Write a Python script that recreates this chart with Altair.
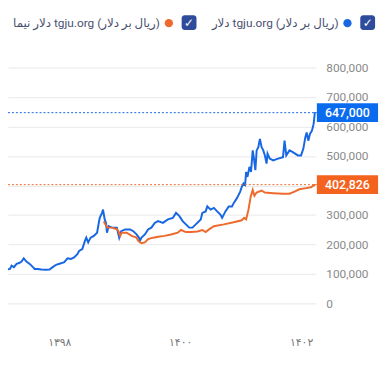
import altair as alt
import pandas as pd

# --- data (x = Persian solar year, fractional) ---
blue_years = [1397.020, 1397.048, 1397.064, 1397.086, 1397.130, 1397.184, 1397.211, 1397.249,
              1397.293, 1397.336, 1397.375, 1397.412, 1397.456, 1397.510, 1397.564, 1397.592,
              1397.646, 1397.701, 1397.783, 1397.837, 1397.891, 1397.946, 1398.028, 1398.082,
              1398.136, 1398.191, 1398.245, 1398.299, 1398.327, 1398.380, 1398.424, 1398.446,
              1398.478, 1398.518, 1398.571, 1398.625, 1398.653, 1398.669, 1398.707, 1398.723,
              1398.751, 1398.772, 1398.789, 1398.816, 1398.870, 1398.952, 1398.991, 1399.024,
              1399.089, 1399.171, 1399.224, 1399.278, 1399.318, 1399.334, 1399.360, 1399.416,
              1399.469, 1399.523, 1399.579, 1399.633, 1399.714, 1399.796, 1399.878, 1399.931,
              1399.987, 1400.041, 1400.095, 1400.150, 1400.204, 1400.258, 1400.340, 1400.367,
              1400.421, 1400.449, 1400.503, 1400.558, 1400.612, 1400.666, 1400.694, 1400.748,
              1400.803, 1400.857, 1400.885, 1400.939, 1400.967, 1400.993, 1401.020, 1401.048,
              1401.074, 1401.091, 1401.113, 1401.146, 1401.172, 1401.200, 1401.221, 1401.244,
              1401.265, 1401.293, 1401.319, 1401.347, 1401.375, 1401.401, 1401.429, 1401.445,
              1401.482, 1401.538, 1401.620, 1401.701, 1401.727, 1401.755, 1401.809, 1401.864,
              1401.946, 1402.000, 1402.038, 1402.070, 1402.093, 1402.119, 1402.147, 1402.180,
              1402.207, 1402.229]
blue_values = [123000, 111000, 97000, 108000, 115000, 117000, 128000, 123000,
               134000, 137000, 142000, 153000, 142000, 134000, 123000, 117000,
               117000, 115000, 114000, 115000, 123000, 131000, 136000, 140000,
               153000, 151000, 156000, 167000, 178000, 184000, 212000, 223000,
               207000, 223000, 229000, 240000, 273000, 290000, 307000, 318000,
               285000, 273000, 240000, 262000, 257000, 257000, 223000, 245000,
               251000, 251000, 245000, 234000, 223000, 212000, 223000, 234000,
               251000, 257000, 273000, 279000, 273000, 285000, 290000, 307000,
               296000, 279000, 268000, 257000, 257000, 268000, 285000, 307000,
               312000, 329000, 318000, 324000, 312000, 301000, 290000, 312000,
               329000, 329000, 340000, 357000, 368000, 379000, 396000, 407000,
               402000, 446000, 429000, 463000, 446000, 519000, 491000, 452000,
               519000, 530000, 558000, 530000, 519000, 502000, 474000, 508000,
               491000, 485000, 491000, 496000, 552000, 502000, 519000, 513000,
               502000, 502000, 525000, 563000, 580000, 552000, 575000, 586000,
               608000, 647000]

nima_years = [1398.735, 1398.762, 1398.789, 1398.870, 1398.952, 1398.980, 1399.007, 1399.033,
              1399.115, 1399.197, 1399.278, 1399.306, 1399.360, 1399.416, 1399.469, 1399.551,
              1399.660, 1399.742, 1399.850, 1399.959, 1400.013, 1400.095, 1400.176, 1400.286,
              1400.367, 1400.421, 1400.477, 1400.558, 1400.722, 1400.885, 1401.020, 1401.058,
              1401.091, 1401.130, 1401.167, 1401.200, 1401.228, 1401.265, 1401.347, 1401.401,
              1401.538, 1401.701, 1401.809, 1401.891, 1401.972, 1402.082, 1402.163, 1402.229]
nima_values = [278000, 268000, 257000, 257000, 251000, 245000, 229000, 240000,
               240000, 229000, 223000, 212000, 204000, 207000, 218000, 223000,
               227000, 229000, 234000, 240000, 249000, 242000, 242000, 244000,
               249000, 242000, 251000, 262000, 268000, 275000, 282000, 290000,
               285000, 318000, 363000, 385000, 365000, 376000, 383000, 376000,
               374000, 372000, 372000, 379000, 387000, 391000, 394000, 402826]

series_names = ["دلار tgju.org (ریال بر دلار)", "دلار نیما tgju.org (ریال بر دلار)"]
last_labels = ["647,000", "402,826"]
tick_years = [1398, 1400, 1402]
tick_labels = ["۱۳۹۸", "۱۴۰۰", "۱۴۰۲"]
y_ticks = [0, 100000, 200000, 300000, 400000, 500000, 600000, 700000, 800000]

# --- styling ---
line_colors = ["#1766e4", "#ee6a2c"]
box_colors = ["#0b6bef", "#f4621f"]
check_color = "#2f4c9c"
legend_text_color = "#4a5070"
FONT = "Roboto, 'DejaVu Sans', sans-serif"

W, H = 312, 239
x_domain = [1397.151, 1402.245]

label_expr = " : ".join(
    f"datum.value == {v} ? '{t}'" for v, t in zip(tick_years, tick_labels)
) + " : ''"

x_enc = alt.X(
    "year:Q",
    scale=alt.Scale(domain=x_domain, nice=False, zero=False),
    axis=alt.Axis(values=tick_years, labelExpr=label_expr, grid=False, ticks=False,
                  domain=False, labelPadding=34, labelFontSize=11, labelColor="#777777",
                  labelFont=FONT, labelOverlap=False, title=None),
)
y_enc = alt.Y(
    "value:Q",
    scale=alt.Scale(domain=[0, 800000], nice=False),
    axis=alt.Axis(orient="right", values=y_ticks, format=",d", grid=True,
                  gridColor="#e8e8e8", ticks=False, domain=False, labelPadding=10,
                  labelFontSize=12, labelColor="#8a8a8a", labelFont=FONT,
                  labelOverlap=False, labelBound=False, title=None),
)

layers = []
series_data = [(blue_years, blue_values), (nima_years, nima_values)]
one = alt.Data(values=[{"a": 1}])

for i, (yrs, vals) in enumerate(series_data):
    df = pd.DataFrame({"year": yrs, "value": vals})
    layers.append(
        alt.Chart(df).mark_line(color=line_colors[i], strokeWidth=2, clip=True)
        .encode(x=x_enc, y=y_enc)
    )

for i in range(2):
    ldf = pd.DataFrame({"value": [series_data[i][1][-1]], "label": [last_labels[i]]})
    base = alt.Chart(ldf)
    layers.append(
        base.mark_rule(color=line_colors[i], strokeDash=[2, 2], strokeWidth=1)
        .encode(y=y_enc, x=alt.value(0), x2=alt.value(308))
    )
    layers.append(
        base.mark_rule(color=line_colors[i], strokeWidth=1)
        .encode(y=y_enc, x=alt.value(308), x2=alt.value(313))
    )
    layers.append(
        base.mark_rule(color=box_colors[i], strokeWidth=19, strokeCap="butt")
        .encode(y=y_enc, x=alt.value(313), x2=alt.value(375))
    )
    layers.append(
        base.mark_text(color="white", fontSize=12.5, fontWeight=500, font=FONT, align="center",
                       baseline="middle")
        .encode(y=y_enc, x=alt.value(344), text="label:N")
    )

# --- legend (checkbox, dot, label) ---
legend_pos = [(364.5, 344, 335), (183.5, 163, 154)]
for i, (cbx, dotx, textx) in enumerate(legend_pos):
    layers.append(
        alt.Chart(one).mark_rect(color=check_color, cornerRadius=3)
        .encode(x=alt.value(cbx - 7.5), x2=alt.value(cbx + 7.5),
                y=alt.value(-53), y2=alt.value(-38))
    )
    layers.append(
        alt.Chart(one).mark_text(text="✓", color="white", fontSize=12, fontWeight="bold",
                                 font="DejaVu Sans", align="center", baseline="middle")
        .encode(x=alt.value(cbx), y=alt.value(-45))
    )
    layers.append(
        alt.Chart(one).mark_circle(color=line_colors[i], opacity=1, size=70)
        .encode(x=alt.value(dotx), y=alt.value(-45))
    )
    layers.append(
        alt.Chart(one).mark_text(text=series_names[i], color=legend_text_color, fontSize=12,
                                 font=FONT, align="right", baseline="middle", dir="rtl")
        .encode(x=alt.value(textx), y=alt.value(-45))
    )

chart = alt.layer(*layers).properties(
    width=W, height=H,
    padding={"left": 0, "top": 58, "right": 66, "bottom": 55},
    autosize=alt.AutoSizeParams(type="none"),
).configure_view(strokeWidth=0)

chart.save("out.html", embed_options={"renderer": "svg", "actions": False})
